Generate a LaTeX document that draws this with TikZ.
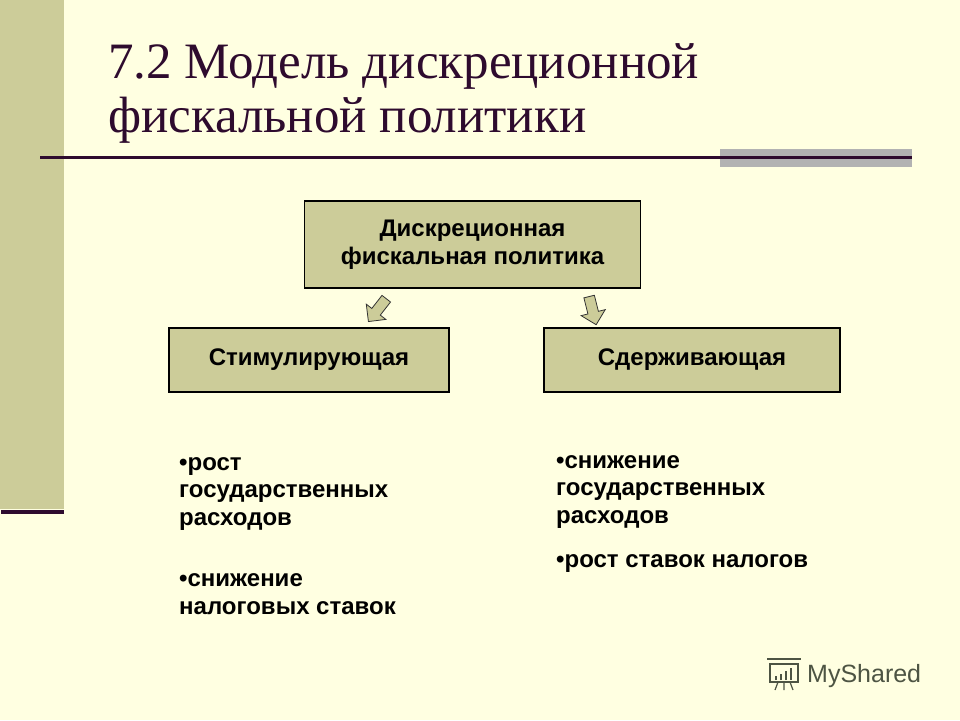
\documentclass[tikz,border=0pt]{standalone}
\usepackage{fontspec}
\setmainfont{Liberation Serif}
\setsansfont{Liberation Sans}
\usetikzlibrary{positioning,shapes.arrows}
\definecolor{pagebg}{HTML}{FFFFE1}
\definecolor{khaki}{HTML}{CCCC99}
\definecolor{plum}{HTML}{2E0B2E}
\definecolor{band}{HTML}{B2B2B2}
\definecolor{brandgray}{HTML}{4D5443}
\tikzset{
  box/.style={draw=black, line width=1.2pt, fill=khaki, align=center, inner sep=0pt,
    font=\sffamily\bfseries\fontsize{24}{27.5}\selectfont},
  bullets/.style={align=left, inner sep=0pt, anchor=base west,
    font=\sffamily\bfseries\fontsize{24}{27.5}\selectfont},
  headline/.style={anchor=base west, inner sep=0pt, text=plum,
    font=\fontsize{51}{57}\selectfont},
  blockarrow/.style={single arrow, draw=black!80, fill=khaki, line width=0.8pt,
    minimum height=29pt, inner sep=5pt, single arrow head extend=7pt}
}
\begin{document}
\begin{tikzpicture}[x=1pt, y=-1pt]
   \useasboundingbox[fill=pagebg] (0,0) rectangle (960,720);
   % side band and rules
   \fill[khaki] (0,0) rectangle (64,509);
   \fill[plum] (1,510) rectangle (64,514);
   \fill[band] (720,149) rectangle (912,167);
   \fill[plum] (40,155.5) rectangle (912,158.5);
   % title
   \node[headline] (title1) at (108,78) {7.2 Модель дискреционной};
   \node[headline] (title2) at (108,132) {фискальной политики};
   % boxes
   \node[box, minimum width=336pt, minimum height=87pt] (disc) at (472.5,244.5)
     {Дискреционная\\фискальная политика};
   \node[box, minimum width=280pt, minimum height=64pt] (stim) at (309,360) {Стимулирующая};
   \node[box, minimum width=296pt, minimum height=64pt] (sder) at (692,360) {Сдерживающая};
   \node[blockarrow, rotate=232] (arrL) at (379,308) {};
   \node[blockarrow, rotate=284] (arrR) at (592,308) {};
   % lists
   \node[bullets] (stim1) at (179,525) {•рост\\государственных\\расходов};
   \node[bullets] (stim2) at (179,614) {•снижение\\налоговых ставок};
   \node[bullets] (sder1) at (556,523) {•снижение\\государственных\\расходов};
   \node[bullets] (sder2) at (556,567) {•рост ставок налогов};
   % watermark
   \draw[brandgray, line width=1.3pt] (770,664) rectangle (798,682);
   \draw[brandgray, line width=1.3pt] (767,659) -- (801,659);
   \draw[brandgray, line width=1.6pt] (776,680) -- (776,676) (781,680) -- (781,674) (786,680) -- (786,671) (791,680) -- (791,668);
   \draw[brandgray, line width=1.2pt] (778,682) -- (775,690) (784,682) -- (784,690) (790,682) -- (793,690);
   \node[anchor=base west, inner sep=0pt, text=brandgray, font=\fontsize{25}{27}\sffamily] (brand) at (807,682) {MyShared};
\end{tikzpicture}
\end{document}
